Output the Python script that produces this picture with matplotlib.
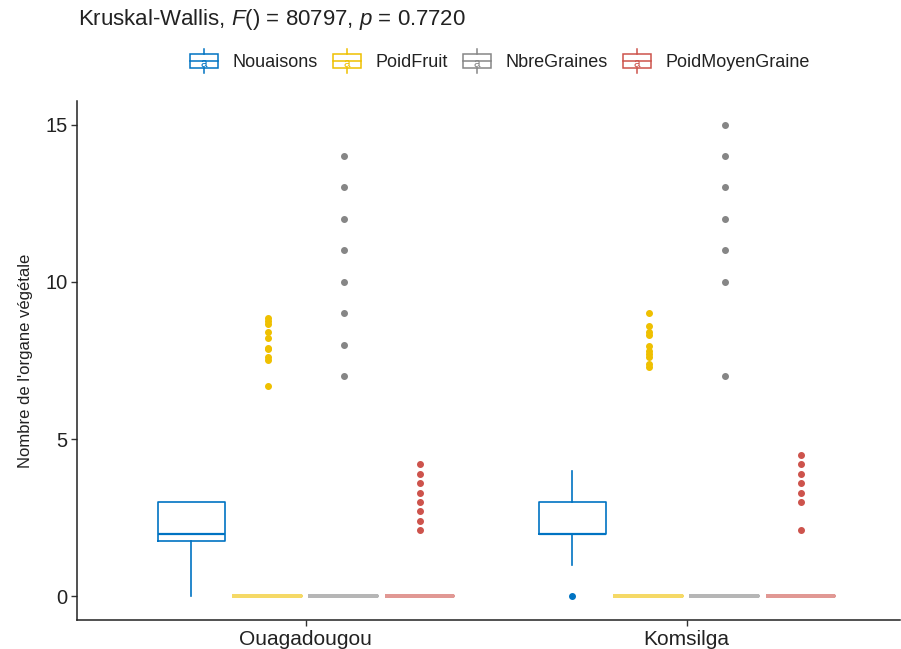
import matplotlib
matplotlib.use("Agg")
import matplotlib.pyplot as plt
from matplotlib.legend_handler import HandlerBase
from matplotlib.patches import Rectangle
from matplotlib.lines import Line2D
from matplotlib.text import Text
from matplotlib.colors import to_rgb

plt.rcParams['font.family'] = ['Liberation Sans', 'DejaVu Sans']
plt.rcParams['mathtext.fontset'] = 'custom'
plt.rcParams['mathtext.it'] = 'Liberation Sans:italic'
plt.rcParams['mathtext.rm'] = 'Liberation Sans'

# ---- data ----
groups = ["Ouagadougou", "Komsilga"]
series = ["Nouaisons", "PoidFruit", "NbreGraines", "PoidMoyenGraine"]
colors = ["#0073C2", "#EFC000", "#868686", "#CD534C"]

ouaga_q1 = [1.75, 0, 0, 0]
ouaga_med = [2, 0, 0, 0]
ouaga_q3 = [3, 0, 0, 0]
ouaga_whislo = [0, 0, 0, 0]
ouaga_whishi = [3, 0, 0, 0]
ouaga_fliers = [[],
                [6.7, 7.5, 7.6, 7.85, 7.9, 8.2, 8.4, 8.65, 8.75, 8.85],
                [7, 8, 9, 10, 11, 12, 13, 14],
                [2.1, 2.4, 2.7, 3.0, 3.3, 3.6, 3.9, 4.2]]

koms_q1 = [2, 0, 0, 0]
koms_med = [2, 0, 0, 0]
koms_q3 = [3, 0, 0, 0]
koms_whislo = [1, 0, 0, 0]
koms_whishi = [4, 0, 0, 0]
koms_fliers = [[0],
               [7.3, 7.4, 7.6, 7.7, 7.8, 7.95, 8.3, 8.4, 8.6, 9.0],
               [7, 10, 11, 12, 13, 14, 15],
               [2.1, 3.0, 3.3, 3.6, 3.9, 4.2, 4.5]]

title_stat = "80797"
title_p = "0.7720"
ylabel = "Nombre de l'organe végétale"
yticks = [0, 5, 10, 15]

group_stats = [
    (ouaga_q1, ouaga_med, ouaga_q3, ouaga_whislo, ouaga_whishi, ouaga_fliers),
    (koms_q1, koms_med, koms_q3, koms_whislo, koms_whishi, koms_fliers),
]

offsets = [-0.3, -0.1, 0.1, 0.3]
box_w = 0.175


def lighten(c, f=0.6):
    r, g, b = to_rgb(c)
    return (1 - f * (1 - r), 1 - f * (1 - g), 1 - f * (1 - b))


fig = plt.figure(figsize=(9.01, 6.49), dpi=100)
ax = fig.add_axes([77 / 901, 1 - 620 / 649, (900 - 77) / 901, (620 - 101) / 649])

for gi, (q1s, meds, q3s, los, his, fls) in enumerate(group_stats):
    for si in range(len(series)):
        st = dict(q1=q1s[si], med=meds[si], q3=q3s[si], whislo=los[si],
                  whishi=his[si], fliers=fls[si])
        c = colors[si]
        flat = q1s[si] == q3s[si]
        lc = lighten(c, 0.6) if flat else c
        lw = 2.6 if flat else 1.2
        ax.bxp([st], positions=[gi + 1 + offsets[si]], widths=box_w,
               showcaps=False, patch_artist=False, manage_ticks=False,
               boxprops=dict(color=lc, lw=lw),
               medianprops=dict(color=lc, lw=lw if flat else 1.6),
               whiskerprops=dict(color=lc, lw=1.2),
               flierprops=dict(marker='o', markerfacecolor=c, markeredgecolor=c,
                               markersize=4.0, linestyle='none'))

ax.set_xlim(0.4, 2.56)
ax.set_ylim(-0.75, 15.75)
ax.set_xticks([1, 2])
ax.set_xticklabels(groups, fontsize=15)
ax.set_yticks(yticks)
ax.set_yticklabels([str(t) for t in yticks], fontsize=14.5)
ax.tick_params(axis='both', direction='out', length=4, width=1, colors='#333333',
               labelcolor='#222222')
ax.tick_params(axis='y', pad=3)
ax.tick_params(axis='x', pad=3)
for s in ['top', 'right']:
    ax.spines[s].set_visible(False)
for s in ['left', 'bottom']:
    ax.spines[s].set_color('#222222')
    ax.spines[s].set_linewidth(1.1)
ax.set_ylabel(ylabel, fontsize=12, color='#222222', labelpad=9)


class BoxKeyHandler(HandlerBase):
    def create_artists(self, legend, orig_handle, xdescent, ydescent, width,
                       height, fontsize, trans):
        c = orig_handle.get_color()
        x0, y0 = -xdescent, -ydescent
        cx = x0 + width / 2
        bh = height * 0.85
        by = y0 + (height - bh) / 2
        rect = Rectangle((x0, by), width, bh, facecolor='white', edgecolor=c,
                         lw=1.1, transform=trans)
        med = Line2D([x0, x0 + width], [by + bh * 0.5] * 2, color=c, lw=1.1,
                     transform=trans)
        w1 = Line2D([cx, cx], [by + bh, by + bh + height * 0.3], color=c,
                    lw=1.1, transform=trans)
        w2 = Line2D([cx, cx], [by, by - height * 0.3], color=c, lw=1.1,
                    transform=trans)
        txt = Text(cx, by + bh * 0.3, "a", color=c, fontsize=fontsize * 0.65,
                   ha='center', va='center', transform=trans)
        return [rect, med, w1, w2, txt]


handles = [Line2D([], [], color=c) for c in colors]
leg = fig.legend(handles, series, loc='center', ncol=4,
                 bbox_to_anchor=(500 / 901, 1 - 62 / 649),
                 frameon=False, fontsize=13, handlelength=1.55,
                 handleheight=1.0, handletextpad=0.8, columnspacing=0.85,
                 handler_map={Line2D: BoxKeyHandler()})
for t in leg.get_texts():
    t.set_color('#222222')

fig.text(78 / 901, 1 - 19 / 649,
         r"Kruskal-Wallis, $\mathit{F}$() = " + title_stat + r", $\mathit{p}$ = " + title_p,
         fontsize=16, ha='left', va='center', color='#222222')

fig.savefig("out.png", dpi=100)
